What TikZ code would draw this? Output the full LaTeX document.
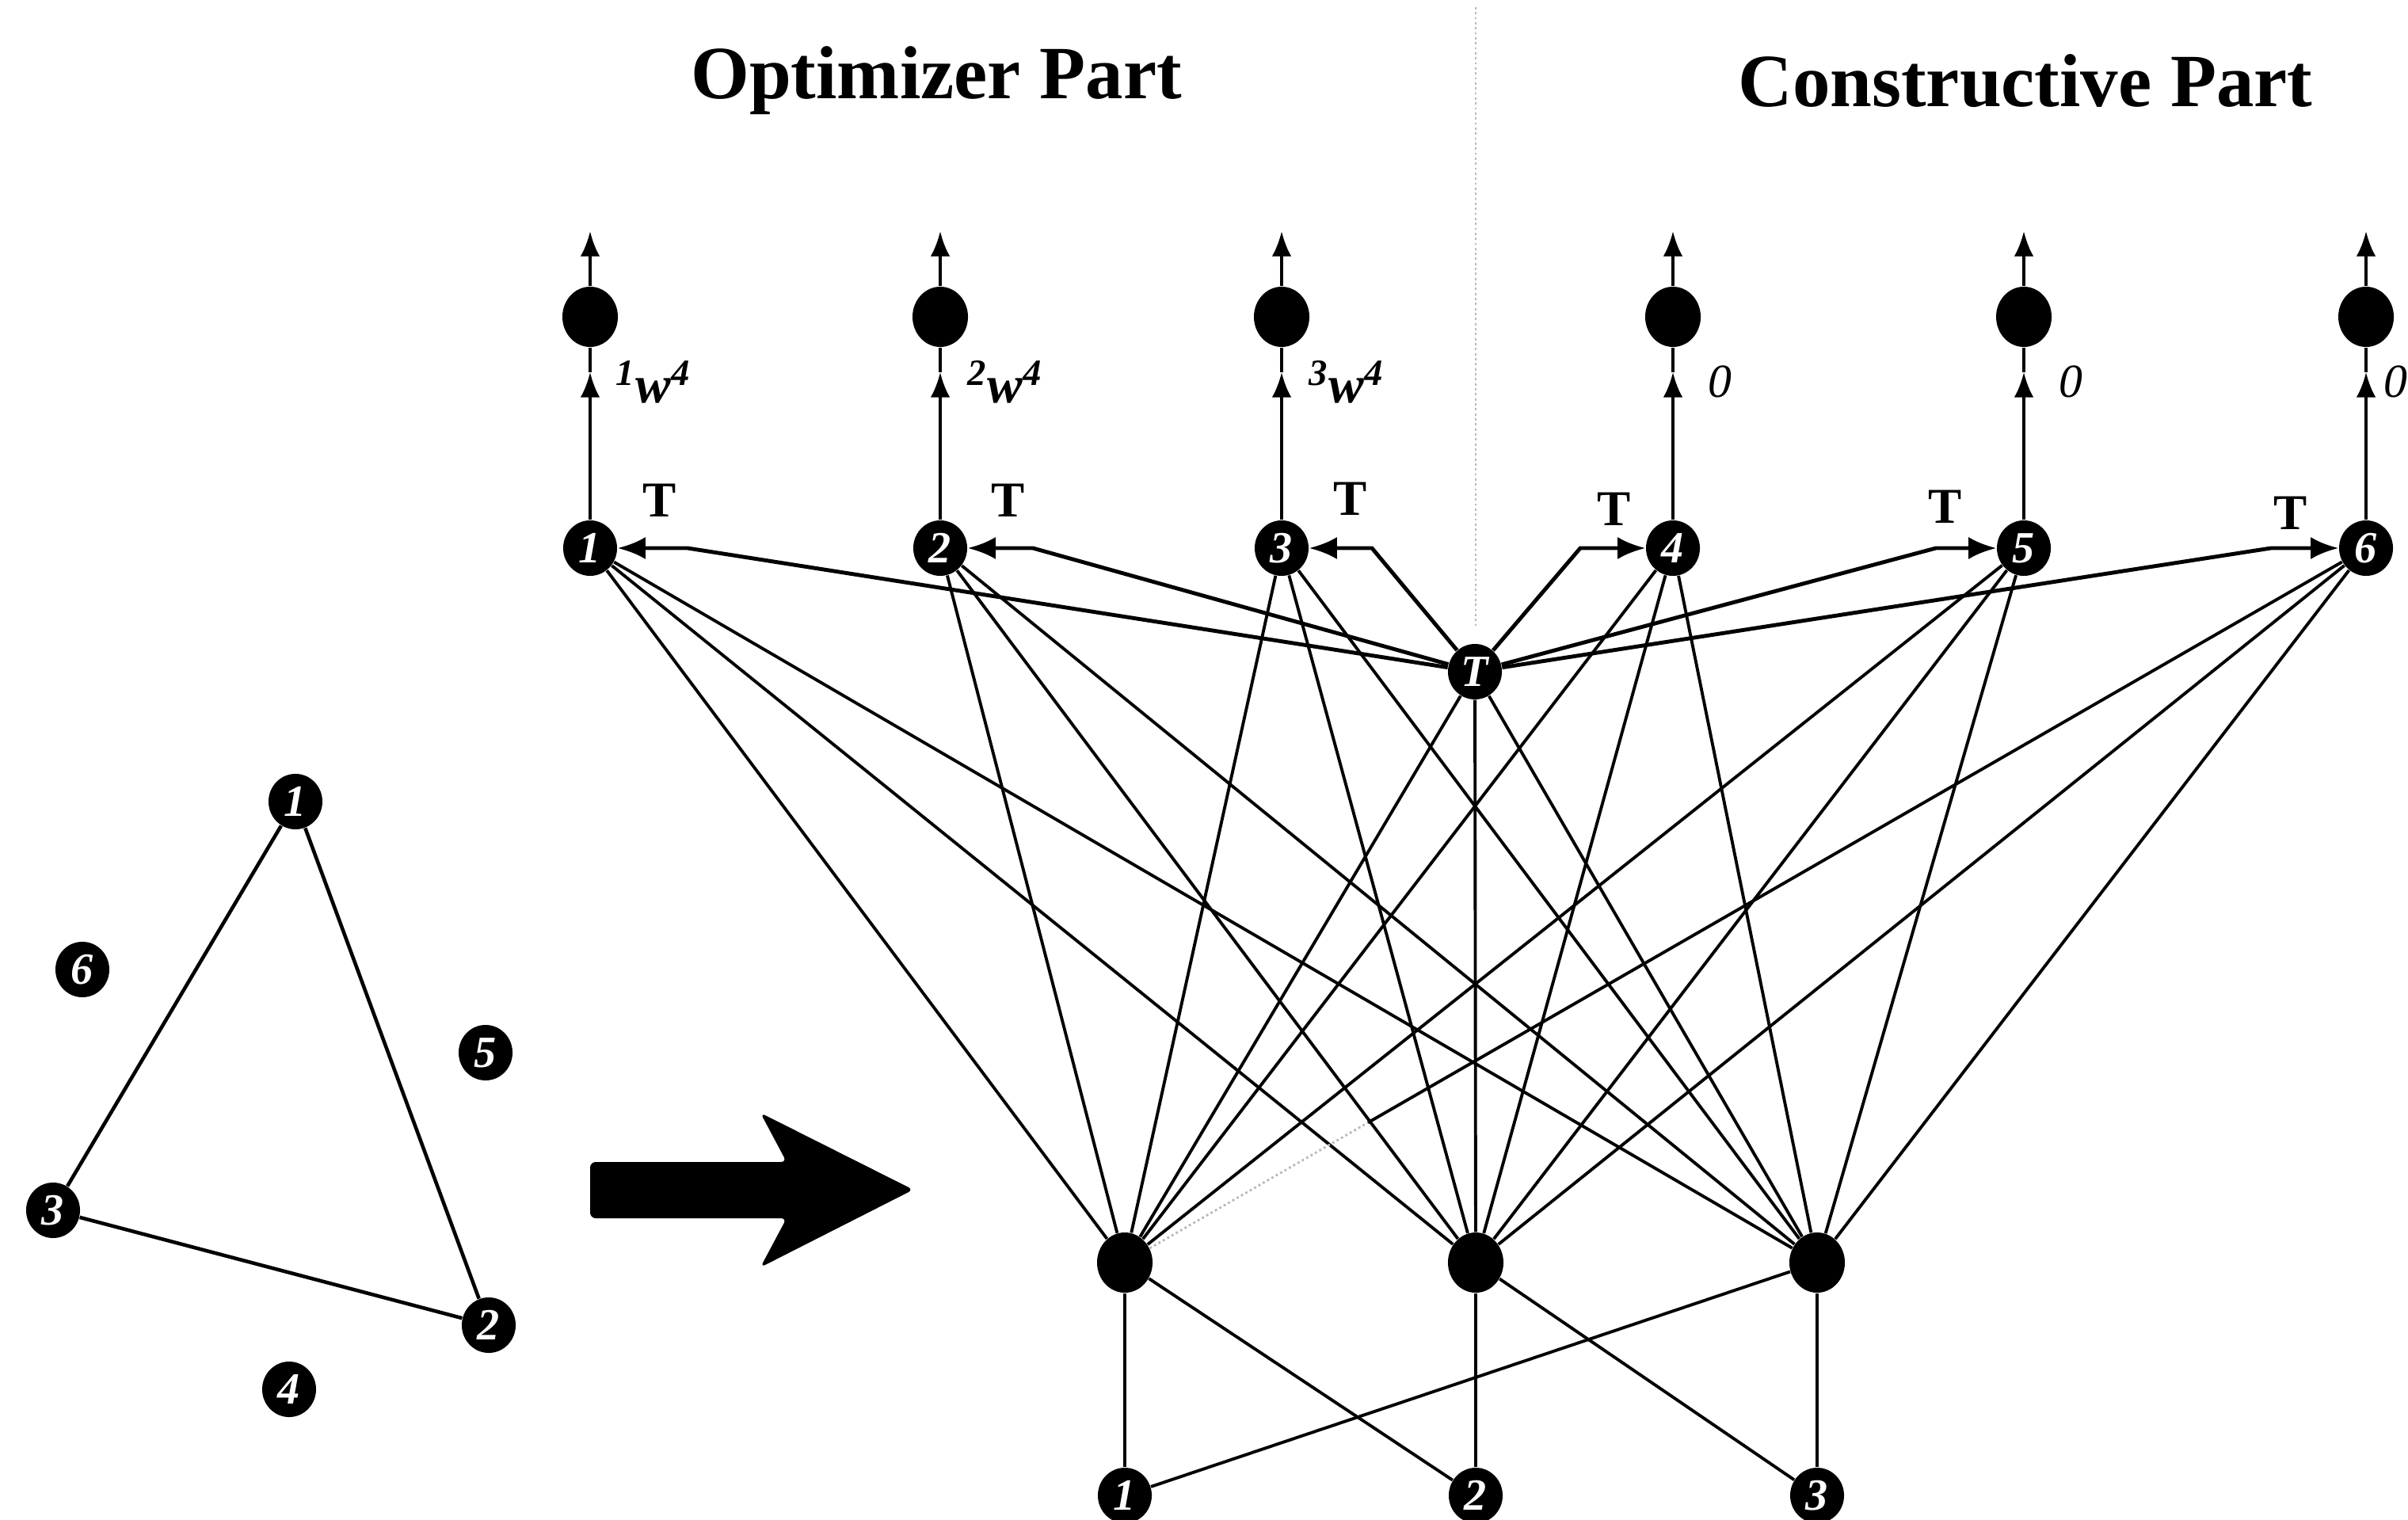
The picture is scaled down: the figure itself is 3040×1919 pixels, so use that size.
\documentclass[tikz,border=0pt]{standalone}
\usepackage{fontspec}
\setmainfont{Liberation Serif}
\usetikzlibrary{arrows.meta,calc,shapes.geometric}
\begin{document}
\begin{tikzpicture}[x=0.01cm,y=-0.01cm,
  dotn/.style={ellipse,fill=black,inner sep=0pt,minimum width=0.68cm,minimum height=0.70cm,text=white,font=\fontsize{16}{16}\selectfont\bfseries\itshape},
  bign/.style={ellipse,fill=black,inner sep=0pt,minimum width=0.70cm,minimum height=0.76cm},
  edge/.style={line width=1.1pt},
  faint/.style={line width=0.8pt,gray!55,densely dotted},
  arr/.style={line width=1.1pt,-{Latex[length=9pt,width=7pt]}},
  tarr/.style={line width=1.4pt,-{Latex[length=10pt,width=8pt]}},
  tlab/.style={font=\fontsize{18}{18}\selectfont\bfseries},
  wlab/.style={anchor=west,font=\fontsize{19}{19}\selectfont\bfseries\itshape},
  zlab/.style={anchor=west,inner sep=0pt,font=\fontsize{17}{17}\selectfont\itshape},
  ttl/.style={font=\fontsize{27}{27}\selectfont\bfseries}]
\useasboundingbox (0,0) rectangle (3040,1919);
\fill[white] (0,0) rectangle (3040,1919);

% titles
\node[ttl] (ttlA) at (1182,102) {Optimizer Part};
\node[ttl] (ttlB) at (2557,102) {Constructive Part};

% separator
\coordinate (sepTop) at (1863,9);
\coordinate (sepBot) at (1863,790);
\draw[faint] (sepTop) -- (sepBot);

% top numbered nodes
\foreach \i/\x in {1/745,2/1187,3/1618,4/2112,5/2555,6/2987}{
  \node[dotn] (t\i) at (\x,692) {\i};
  \node[bign] (o\i) at (\x,400) {};
  \coordinate (up\i) at (\x,292);
  \coordinate (mid\i) at (\x,470);
  \draw[arr] (o\i) -- (up\i);
  \draw[arr] (t\i) -- (mid\i);
  \draw[edge] (mid\i) -- (o\i);
}

% weight labels
\node[wlab] (w1) at (765,482) {\textsuperscript{\textit{1}}w\textsuperscript{\textit{4}}};
\node[wlab] (w2) at (1209,482) {\textsuperscript{\textit{2}}w\textsuperscript{\textit{4}}};
\node[wlab] (w3) at (1640,482) {\textsuperscript{\textit{3}}w\textsuperscript{\textit{4}}};
\node[zlab] (z4) at (2156,482) {0};
\node[zlab] (z5) at (2599,482) {0};
\node[zlab] (z6) at (3009,482) {0};

% T node
\node[dotn] (T) at (1862,848) {T};

% T labels
\node[tlab] (l1) at (833,632) {T};
\node[tlab] (l2) at (1273,632) {T};
\node[tlab] (l3) at (1705,630) {T};
\node[tlab] (l4) at (2038,643) {T};
\node[tlab] (l5) at (2456,640) {T};
\node[tlab] (l6) at (2892,648) {T};

% bend points of T arrows
\coordinate (b1) at (868,692);
\coordinate (b2) at (1304,692);
\coordinate (b3) at (1732,692);
\coordinate (b4) at (1995,692);
\coordinate (b5) at (2444,692);
\coordinate (b6) at (2867,692);
\foreach \i in {1,...,6}{
  \draw[tarr] (T) -- (b\i) -- (t\i);
}

% hidden and input layers
\foreach \i/\x in {1/1420,2/1863,3/2294}{
  \node[bign] (h\i) at (\x,1594) {};
  \node[dotn] (in\i) at (\x,1888) {\i};
}

% top to hidden connections
\foreach \i in {1,...,5}{
  \foreach \j in {1,2,3}{
    \draw[edge] (t\i) -- (h\j);
  }
}
\draw[edge] (t6) -- (h2);
\draw[edge] (t6) -- (h3);
\coordinate (m16) at ($(h1)!0.196!(t6)$);
\draw[faint] (h1) -- (m16);
\draw[edge] (m16) -- (t6);
\foreach \j in {1,2,3}{
  \draw[edge] (T) -- (h\j);
}

% hidden to input
\draw[edge] (h1) -- (in1);
\draw[edge] (h1) -- (in2);
\draw[edge] (h2) -- (in2);
\draw[edge] (h2) -- (in3);
\draw[edge] (h3) -- (in3);
\draw[edge] (h3) -- (in1);

% left graph
\node[dotn] (g1) at (373,1012) {1};
\node[dotn] (g2) at (617,1673) {2};
\node[dotn] (g3) at (67,1528) {3};
\node[dotn] (g4) at (365,1754) {4};
\node[dotn] (g5) at (613,1329) {5};
\node[dotn] (g6) at (104,1224) {6};
\draw[line width=1.3pt] (g1) -- (g2) -- (g3) -- (g1);

% big arrow
\fill[rounded corners=2pt] (745,1467) -- (993,1467) -- (960,1405) -- (1153,1502)
  -- (960,1600) -- (993,1538) -- (745,1538) -- cycle;
\end{tikzpicture}
\end{document}
